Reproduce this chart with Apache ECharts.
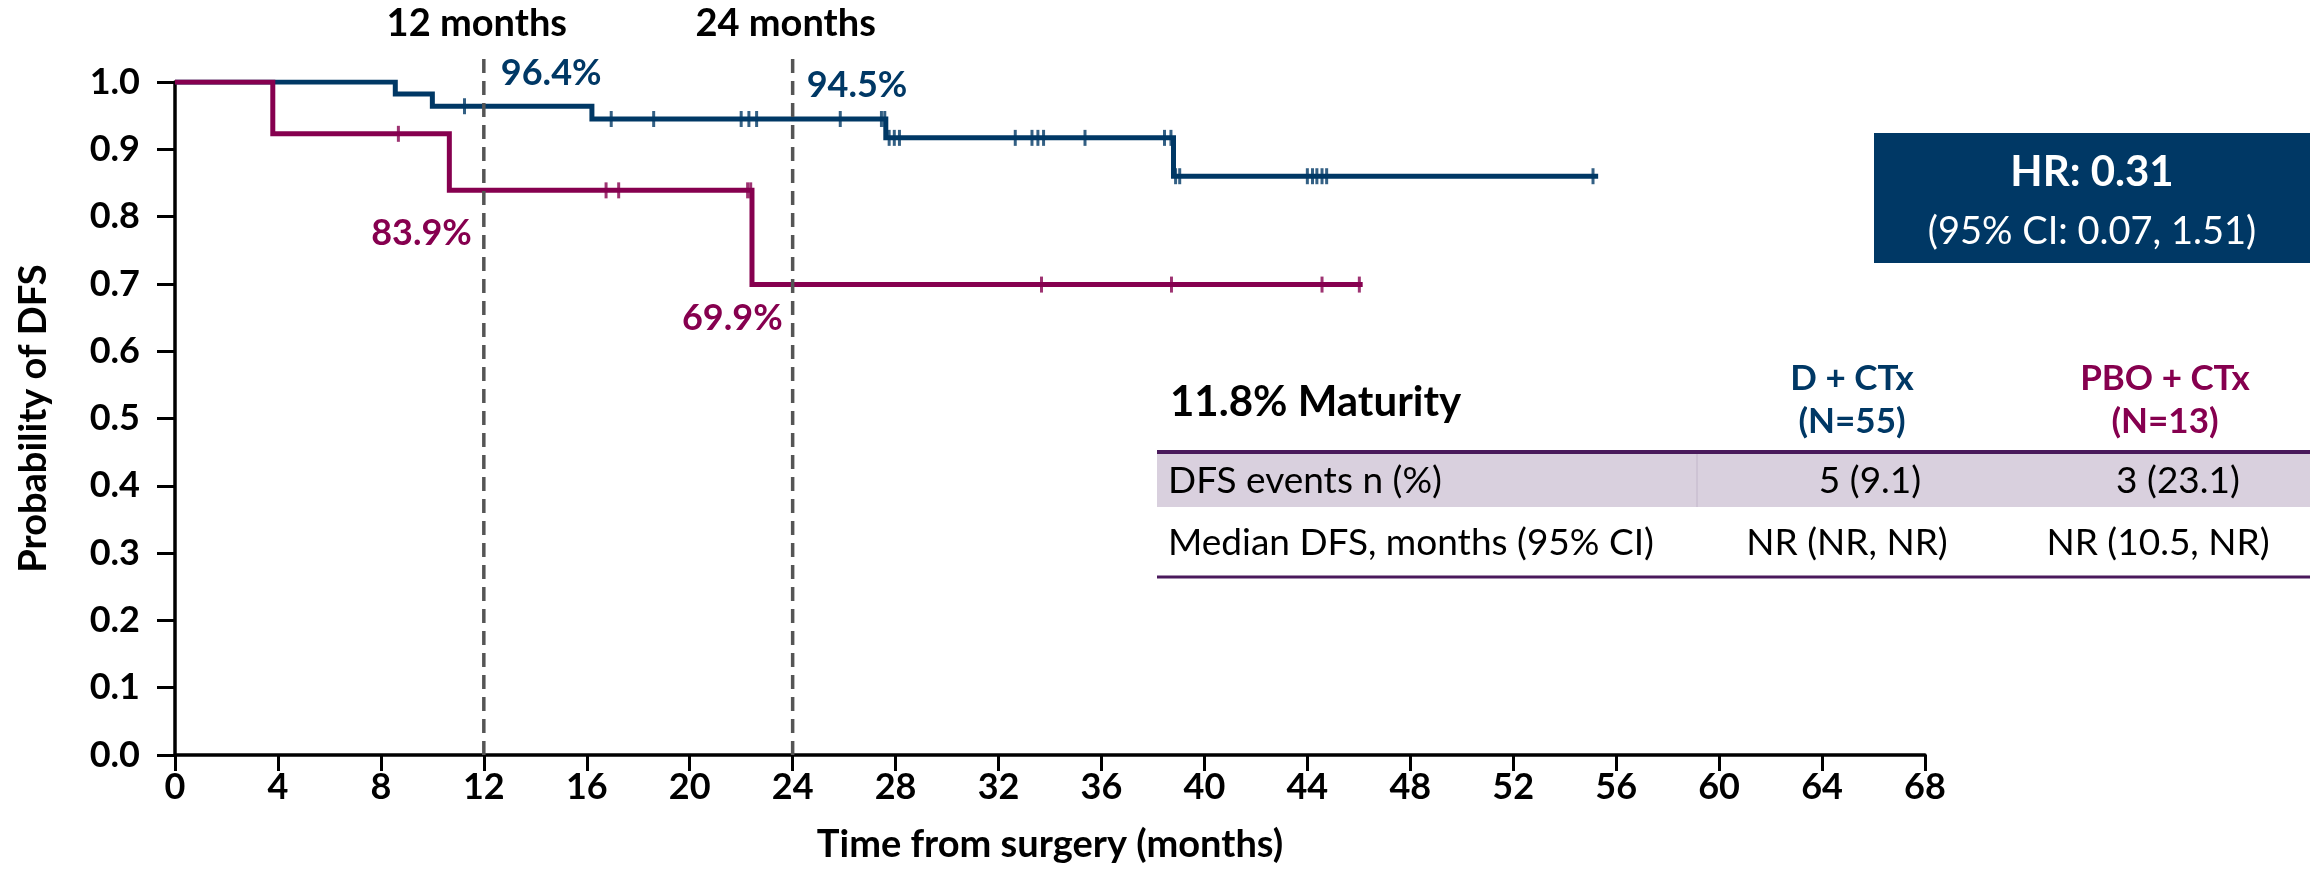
<!DOCTYPE html>
<html>
<head>
<meta charset="utf-8">
<script src="https://cdn.jsdelivr.net/npm/echarts@6/dist/echarts.min.js"></script>
<style>
  html, body { margin: 0; padding: 0; background: #fff; }
  #main { width: 2316px; height: 869px; }
</style>
</head>
<body>
<div id="main"></div>
<script>
// Kaplan–Meier disease-free survival, D + CTx vs PBO + CTx

// Step points [month, survival] for each arm (survival after each event)
const dCtxSteps = [[0, 1.0], [8.56, 0.982], [10.0, 0.964], [16.2, 0.945], [27.62, 0.917], [38.8, 0.860], [55.3, 0.860]];
const pboSteps  = [[0, 1.0], [3.8, 0.923], [10.66, 0.839], [22.42, 0.699], [46.15, 0.699]];

// Censoring times (months)
const dCtxCensored = [11.25, 16.95, 18.6, 22.0, 22.3, 22.6, 25.85, 27.45, 27.58, 27.75, 27.95, 28.15,
  32.65, 33.3, 33.53, 33.75, 35.36, 38.45, 38.7, 38.88, 39.04, 44.0, 44.2, 44.37, 44.57, 44.75, 55.1];
const pboCensored = [8.68, 16.75, 17.24, 22.25, 22.37, 33.67, 38.72, 44.57, 46.02];

// Landmark times
const landmarkMonths = [12, 24];
const landmarkTitles = ['12 months', '24 months'];

// Axis ticks
const xTicks = [0, 4, 8, 12, 16, 20, 24, 28, 32, 36, 40, 44, 48, 52, 56, 60, 64, 68];
const yTicks = [0.0, 0.1, 0.2, 0.3, 0.4, 0.5, 0.6, 0.7, 0.8, 0.9, 1.0];

// Summary table and hazard ratio
const tableTitle = '11.8% Maturity';
const armNames = ['D + CTx', 'PBO + CTx'];
const armCounts = ['(N=55)', '(N=13)'];
const rowLabels = ['DFS events n (%)', 'Median DFS, months (95% CI)'];
const dfsEvents = ['5 (9.1)', '3 (23.1)'];
const medianDfs = ['NR (NR, NR)', 'NR (10.5, NR)'];
const hrLine = 'HR: 0.31';
const ciLine = '(95% CI: 0.07, 1.51)';

// ---- styling ----
const FONT = 'Lato';
const BLUE = '#003865';
const RED = '#86004f';
const PURPLE = '#4a1a5c';
const BAND = '#d9d0de';
const GUIDE = '#555555';

// survival level of a step function at time t
function levelAt(steps, t) {
  let v = steps[0][1];
  for (const s of steps) { if (s[0] <= t) v = s[1]; }
  return v;
}

const chart = echarts.init(document.getElementById('main'));

function kmLine(steps, color, z) {
  return {
    type: 'line', data: steps, step: 'end', symbol: 'none', z: z,
    lineStyle: { color: color, width: 5, cap: 'butt', join: 'miter' }
  };
}
function censorMarks(times, steps, color, z) {
  return {
    type: 'scatter', z: z,
    data: times.map(t => [t, levelAt(steps, t)]),
    symbol: 'rect', symbolSize: [3, 16],
    itemStyle: { color: color }
  };
}
const guideTop = 1.045;
const guides = landmarkMonths.map(m => ({
  type: 'line', data: [[m, 0], [m, guideTop]], symbol: 'none', clip: false, z: 10,
  lineStyle: { color: GUIDE, width: 3.5, type: [14, 8] }
}));

chart.setOption({
  animation: false,
  grid: { left: 175, right: 391, top: 82, bottom: 107 },
  xAxis: {
    type: 'value', min: xTicks[0], max: xTicks[xTicks.length - 1], interval: xTicks[1] - xTicks[0],
    axisLine: { show: true, lineStyle: { color: '#000', width: 3.5 } },
    axisTick: { show: true, length: 16, lineStyle: { color: '#000', width: 3 } },
    axisLabel: { fontFamily: FONT, fontWeight: 'bold', fontSize: 36, color: '#000', margin: 14 },
    splitLine: { show: false },
    name: 'Time from surgery (months)', nameLocation: 'middle', nameGap: 71,
    nameTextStyle: { fontFamily: FONT, fontWeight: 'bold', fontSize: 38, color: '#000' }
  },
  yAxis: {
    type: 'value', min: yTicks[0], max: yTicks[yTicks.length - 1], interval: 0.1,
    axisLine: { show: true, lineStyle: { color: '#000', width: 3.5 } },
    axisTick: { show: true, length: 18, lineStyle: { color: '#000', width: 3 } },
    axisLabel: { fontFamily: FONT, fontWeight: 'bold', fontSize: 36, color: '#000', margin: 35,
      formatter: v => v.toFixed(1) },
    splitLine: { show: false },
    name: 'Probability of DFS', nameLocation: 'middle', nameGap: 122, nameRotate: 90,
    nameTextStyle: { fontFamily: FONT, fontWeight: 'bold', fontSize: 38, color: '#000' }
  },
  series: [
    kmLine(dCtxSteps, BLUE, 3),
    kmLine(pboSteps, RED, 4),
    censorMarks(dCtxCensored, dCtxSteps, BLUE, 5),
    censorMarks(pboCensored, pboSteps, RED, 6),
    ...guides
  ]
});

const px = (x, y) => chart.convertToPixel({ gridIndex: 0 }, [x, y]);
const pct = v => (v * 100).toFixed(1) + '%';
const txt = (text, x, y, font, fill, align) => ({
  type: 'text', z: 20,
  style: { text: text, x: x, y: y, font: font, fill: fill, align: align || 'center', verticalAlign: 'middle' }
});

const graphics = [];

// landmark titles above the guide lines
landmarkMonths.forEach((m, i) => {
  const p = px(m, 1.0);
  graphics.push(txt(landmarkTitles[i], p[0] - 7, p[1] - 58, 'bold 38px ' + FONT, '#000'));
});

// landmark survival estimates
const blueOffsets = [[17, -33], [14, -34]];
const redOffsets = [[-12, 43], [-10, 34]];
landmarkMonths.forEach((m, i) => {
  const vb = levelAt(dCtxSteps, m);
  const pb = px(m, vb);
  graphics.push(txt(pct(vb), pb[0] + blueOffsets[i][0], pb[1] + blueOffsets[i][1], 'bold 36px ' + FONT, BLUE, 'left'));
  const vr = levelAt(pboSteps, m);
  const pr = px(m, vr);
  graphics.push(txt(pct(vr), pr[0] + redOffsets[i][0], pr[1] + redOffsets[i][1], 'bold 36px ' + FONT, RED, 'right'));
});

// hazard ratio box
graphics.push({ type: 'rect', z: 15, shape: { x: 1874, y: 133, width: 436, height: 130 }, style: { fill: BLUE } });
graphics.push(txt(hrLine, 2092, 172, 'bold 42px ' + FONT, '#fff'));
graphics.push(txt(ciLine, 2092, 232, '38px ' + FONT, '#fff'));

// summary table
const tLeft = 1157, tRight = 2310;
const colCenters = [[1852, 1870, 1847], [2165, 2178, 2158]]; // header, row 1, row 2
graphics.push(txt(tableTitle, 1170, 402, 'bold 42px ' + FONT, '#000', 'left'));
armNames.forEach((name, i) => {
  const color = i === 0 ? BLUE : RED;
  graphics.push(txt(name, colCenters[i][0], 379, 'bold 35px ' + FONT, color));
  graphics.push(txt(armCounts[i], colCenters[i][0], 422, 'bold 35px ' + FONT, color));
});
graphics.push({ type: 'rect', z: 14, shape: { x: tLeft, y: 453, width: tRight - tLeft, height: 54 }, style: { fill: BAND } });
graphics.push({ type: 'line', z: 15, shape: { x1: 1697, y1: 454, x2: 1697, y2: 507 }, style: { stroke: '#c2b6ca', lineWidth: 1 } });
graphics.push({ type: 'line', z: 16, shape: { x1: tLeft, y1: 452, x2: tRight, y2: 452 }, style: { stroke: PURPLE, lineWidth: 4 } });
graphics.push({ type: 'line', z: 16, shape: { x1: tLeft, y1: 577, x2: tRight, y2: 577 }, style: { stroke: PURPLE, lineWidth: 3 } });
graphics.push(txt(rowLabels[0], 1168, 481, '37px ' + FONT, '#000', 'left'));
graphics.push(txt(rowLabels[1], 1168, 543, '37px ' + FONT, '#000', 'left'));
dfsEvents.forEach((v, i) => graphics.push(txt(v, colCenters[i][1], 481, '37px ' + FONT, '#000')));
medianDfs.forEach((v, i) => graphics.push(txt(v, colCenters[i][2], 543, '37px ' + FONT, '#000')));

chart.setOption({ graphic: graphics });
</script>
</body>
</html>
